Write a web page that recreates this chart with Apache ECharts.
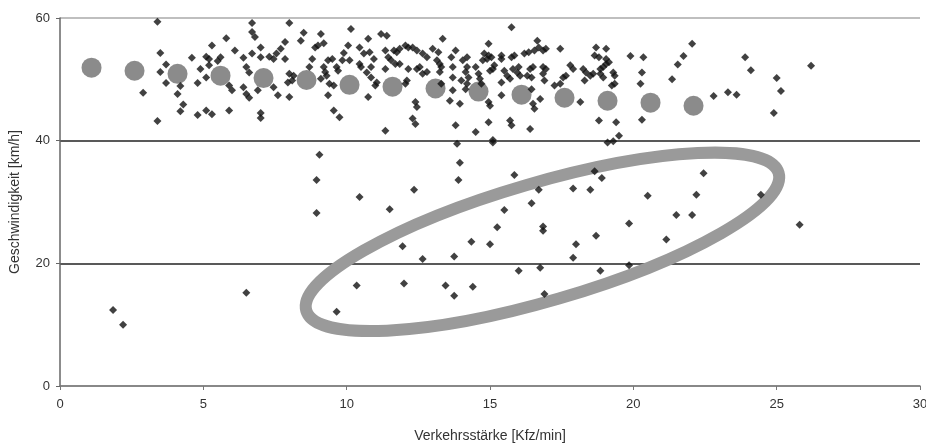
<!DOCTYPE html>
<html>
<head>
<meta charset="utf-8">
<script src="https://cdn.jsdelivr.net/npm/echarts@6/dist/echarts.min.js"></script>
<style>
  html, body { margin: 0; padding: 0; background: #fff; }
  #chart { width: 926px; height: 443px; }
</style>
</head>
<body>
<div id="chart"></div>
<script>
// single measurements (Kfz/min, km/h)
const singlePoints = [
  [3.4,59.4],[3.5,54.3],[3.7,52.4],[3.5,51.2],[3.7,49.4],[2.9,47.8],[4.1,47.6],[4.2,48.9],[4.3,45.9],[4.2,44.8],
  [3.4,43.2],[4.6,53.5],[4.8,49.4],[4.9,51.7],[5.1,53.7],[5.2,53.3],[5.3,55.5],[5.2,52.3],[5.1,50.3],[4.8,44.2],
  [5.1,44.9],[5.3,44.3],[5.6,53.6],[5.5,53.0],[5.8,56.7],[5.9,44.9],[6.1,54.7],[5.9,49.0],[6.0,48.2],[6.4,53.5],
  [6.5,52.0],[6.6,51.1],[6.4,48.7],[6.5,47.6],[6.6,47.0],[6.7,59.2],[6.7,57.7],[6.8,56.9],[6.7,54.2],[6.9,48.2],
  [7.0,44.5],[7.0,43.7],
  [8.0,59.2],[8.5,57.6],[8.4,56.3],[9.1,57.4],[9.2,55.9],[8.9,55.2],[9.0,55.5],[7.85,56.1],[7.7,55.0],[7.55,54.2],
  [7.45,53.3],[7.3,53.7],[7.0,55.2],[7.0,53.6],[7.85,53.3],[8.8,53.3],[8.7,52.0],[8.0,50.9],[8.15,50.6],[8.1,49.8],
  [7.95,49.5],[7.45,48.7],[7.6,47.4],[8.0,47.1],[9.35,53.1],[9.5,53.3],[9.2,52.0],[9.25,51.2],[9.3,50.6],[9.1,50.1],
  [9.4,49.3],[9.55,49.0],[9.35,47.4],[9.65,52.0],[9.7,51.4],[9.55,44.9],[9.75,43.8],[9.9,54.3],[9.85,53.1],[10.05,55.5],
  [10.15,58.2],[10.1,53.1],[10.45,55.2],[10.6,54.2],[10.45,52.5],[10.5,52.0],[10.75,56.6],[10.8,54.4],[10.95,53.3],[10.85,52.0],
  [10.7,51.1],[10.85,50.3],[11.05,49.5],[11.0,49.0],[10.75,47.1],[11.2,57.4],[11.4,57.1],[11.35,54.7],[11.45,53.6],[11.55,53.1],
  [11.35,51.7],[11.65,54.7],[11.75,54.4],[11.85,55.0],[12.05,55.5],[12.15,55.2],[12.3,55.2],[12.45,54.7],[11.7,52.5],[11.85,52.5],
  [12.15,51.7],[12.45,51.7],[12.55,52.0],[12.1,49.8],[12.05,49.3],[11.35,41.6],[12.4,46.3],[12.45,45.5],[12.3,43.6],[12.4,42.7],
  [12.65,54.2],[12.8,53.6],[12.65,50.9],[12.8,51.2],[13.0,55.0],[13.2,54.4],[13.15,53.1],[13.25,52.5],[13.3,52.0],[13.25,51.2],
  [13.35,56.6],[13.3,49.3],[13.65,53.6],[13.7,52.0],[13.7,50.3],[13.8,54.7],[13.6,46.5],[13.7,48.2],[13.8,42.5],
  [15.75,58.5],[14.95,55.8],[14.8,54.2],[14.95,53.9],[15.05,53.6],[14.9,53.3],[14.75,53.1],[15.4,53.9],[15.4,53.3],[14.2,53.6],
  [14.05,53.1],[14.2,52.0],[14.15,51.2],[14.25,50.3],[14.2,49.3],[14.0,49.8],[14.15,48.4],[14.5,52.0],[14.6,50.9],[14.65,50.1],
  [14.7,49.3],[15.0,51.4],[15.1,51.7],[15.15,52.3],[14.95,46.3],[15.0,45.7],[13.95,46.0],[14.95,43.0],[14.5,41.4],[15.1,40.1],
  [15.4,49.5],[15.4,47.4],[15.5,51.4],[15.6,50.6],[15.7,50.1],[15.75,53.6],[15.85,53.9],[15.8,51.7],[16.0,52.0],[15.95,51.1],
  [16.05,50.6],[16.2,54.2],[16.35,54.4],[16.65,56.3],[16.7,55.2],[16.55,54.7],[16.85,54.7],[16.95,55.0],[16.4,51.7],[16.5,52.0],
  [16.3,50.6],[16.45,50.3],[16.85,52.0],[16.95,51.7],[16.85,50.9],[16.9,49.8],[16.45,48.4],[16.5,46.0],[16.55,45.2],[16.75,46.8],
  [15.7,43.3],[15.75,42.5],[16.4,41.9],[17.45,55.0],[17.25,49.0],[17.45,49.3],[17.55,50.3],[17.65,50.6],[17.8,52.3],[17.9,51.7],
  [18.15,46.3],[18.25,51.7],[18.35,51.1],[18.3,49.8],[18.5,50.6],[18.6,50.9],[18.7,55.2],[18.65,53.9],[18.8,53.6],[19.05,55.0],
  [18.85,51.7],[18.95,52.0],[19.05,52.5],[19.05,53.3],[19.15,52.8],[18.85,50.9],[18.95,50.3],[19.3,51.1],[19.35,50.6],[19.25,49.0],
  [19.35,49.3],[18.8,43.3],[19.4,43.0],[19.5,40.8],[19.1,39.7],[19.3,39.9],[19.9,53.8],[20.35,53.6],[20.3,51.1],[20.25,49.3],
  [20.3,43.4],
  [22.05,55.8],[21.75,53.8],[21.55,52.4],[21.35,50.0],[22.8,47.3],[23.3,47.9],[23.6,47.5],[23.9,53.6],[24.1,51.5],[25.0,50.2],
  [25.15,48.1],[24.9,44.5],[26.2,52.2],
  [9.05,37.7],[8.95,33.6],[8.95,28.2],[6.5,15.2],[13.85,39.5],[15.1,39.7],[13.95,36.4],[13.9,33.6],[10.45,30.8],[12.35,32.0],
  [11.5,28.8],[11.95,22.8],[12.65,20.7],[13.75,21.1],[14.35,23.5],[15.0,23.1],[15.25,25.9],[15.5,28.7],[15.85,34.4],[16.45,29.8],
  [16.7,32.0],[16.85,26.0],[16.85,25.3],[17.9,32.2],[18.5,32.0],[18.65,35.0],[18.9,33.9],[18.7,24.5],[18.0,23.1],[17.9,20.9],
  [16.0,18.8],[16.75,19.3],[18.85,18.8],[10.35,16.4],[12.0,16.7],[13.45,16.4],[14.4,16.2],[13.75,14.7],[16.9,15.0],[22.45,34.7],
  [20.5,31.0],[22.2,31.2],[24.45,31.2],[21.5,27.9],[22.05,27.9],[19.85,26.5],[21.15,23.9],[25.8,26.3],[19.85,19.7],[1.85,12.4],
  [2.2,10.0],[9.65,12.1]
];

// class means
const meanFlow = [1.1, 2.6, 4.1, 5.6, 7.1, 8.6, 10.1, 11.6, 13.1, 14.6, 16.1, 17.6, 19.1, 20.6, 22.1];
const meanSpeed = [51.9, 51.4, 50.9, 50.6, 50.2, 49.9, 49.1, 48.8, 48.5, 48.0, 47.5, 47.0, 46.5, 46.2, 45.7];

// marked region (centre in data units)
const ringCentre = [16.83, 23.5];

const xTicks = [0, 5, 10, 15, 20, 25, 30];
const yTicks = [0, 20, 40, 60];

const chart = echarts.init(document.getElementById('chart'));

const fontFamily = '"Liberation Sans", Arial, sans-serif';

chart.setOption({
    backgroundColor: '#fff',
    animation: false,
    grid: { left: 60, right: 6, top: 18, bottom: 57, containLabel: false, outerBoundsMode: 'none' },
    xAxis: {
        type: 'value',
        min: xTicks[0],
        max: xTicks[xTicks.length - 1],
        interval: 5,
        name: 'Verkehrsstärke [Kfz/min]',
        nameLocation: 'middle',
        nameGap: 43,
        nameTextStyle: { color: '#333', fontSize: 14, fontFamily },
        axisLine: { lineStyle: { color: '#777', width: 1.5 } },
        axisTick: { show: true, length: 4, lineStyle: { color: '#777' } },
        axisLabel: { color: '#333', fontSize: 13, margin: 12, fontFamily },
        splitLine: { show: false },
    },
    yAxis: {
        type: 'value',
        min: yTicks[0],
        max: yTicks[yTicks.length - 1],
        interval: 20,
        name: 'Geschwindigkeit [km/h]',
        nameLocation: 'middle',
        nameGap: 38,
        nameTextStyle: { color: '#333', fontSize: 14, fontFamily },
        axisLine: { show: true, lineStyle: { color: '#666', width: 1.5 } },
        axisTick: { show: true, length: 4, lineStyle: { color: '#666' } },
        axisLabel: { color: '#333', fontSize: 13, margin: 10, fontFamily },
        splitLine: { show: true, lineStyle: { color: ['#aaa', '#222', '#222', '#aaa'], width: 1.5 } },
    },
    series: [
        {
            // ellipse around the low-speed cluster
            type: 'custom',
            data: [ringCentre],
            z: 1,
            silent: true,
            renderItem(params, api) {
                const pt = api.coord([api.value(0), api.value(1)]);
                return {
                    type: 'ellipse',
                    x: pt[0],
                    y: pt[1],
                    rotation: 0.284,
                    shape: { cx: 0, cy: 0, rx: 246, ry: 59 },
                    style: { fill: 'none', stroke: '#9a9a9a', lineWidth: 12 },
                };
            },
        },
        {
            type: 'scatter',
            data: meanFlow.map((x, i) => [x, meanSpeed[i]]),
            symbol: 'circle',
            symbolSize: 20,
            z: 2,
            itemStyle: { color: '#6e6e6e' },
        },
        {
            type: 'scatter',
            data: singlePoints,
            symbol: 'diamond',
            symbolSize: 8,
            z: 3,
            itemStyle: { color: '#111' },
        },
    ],
});
</script>
</body>
</html>
